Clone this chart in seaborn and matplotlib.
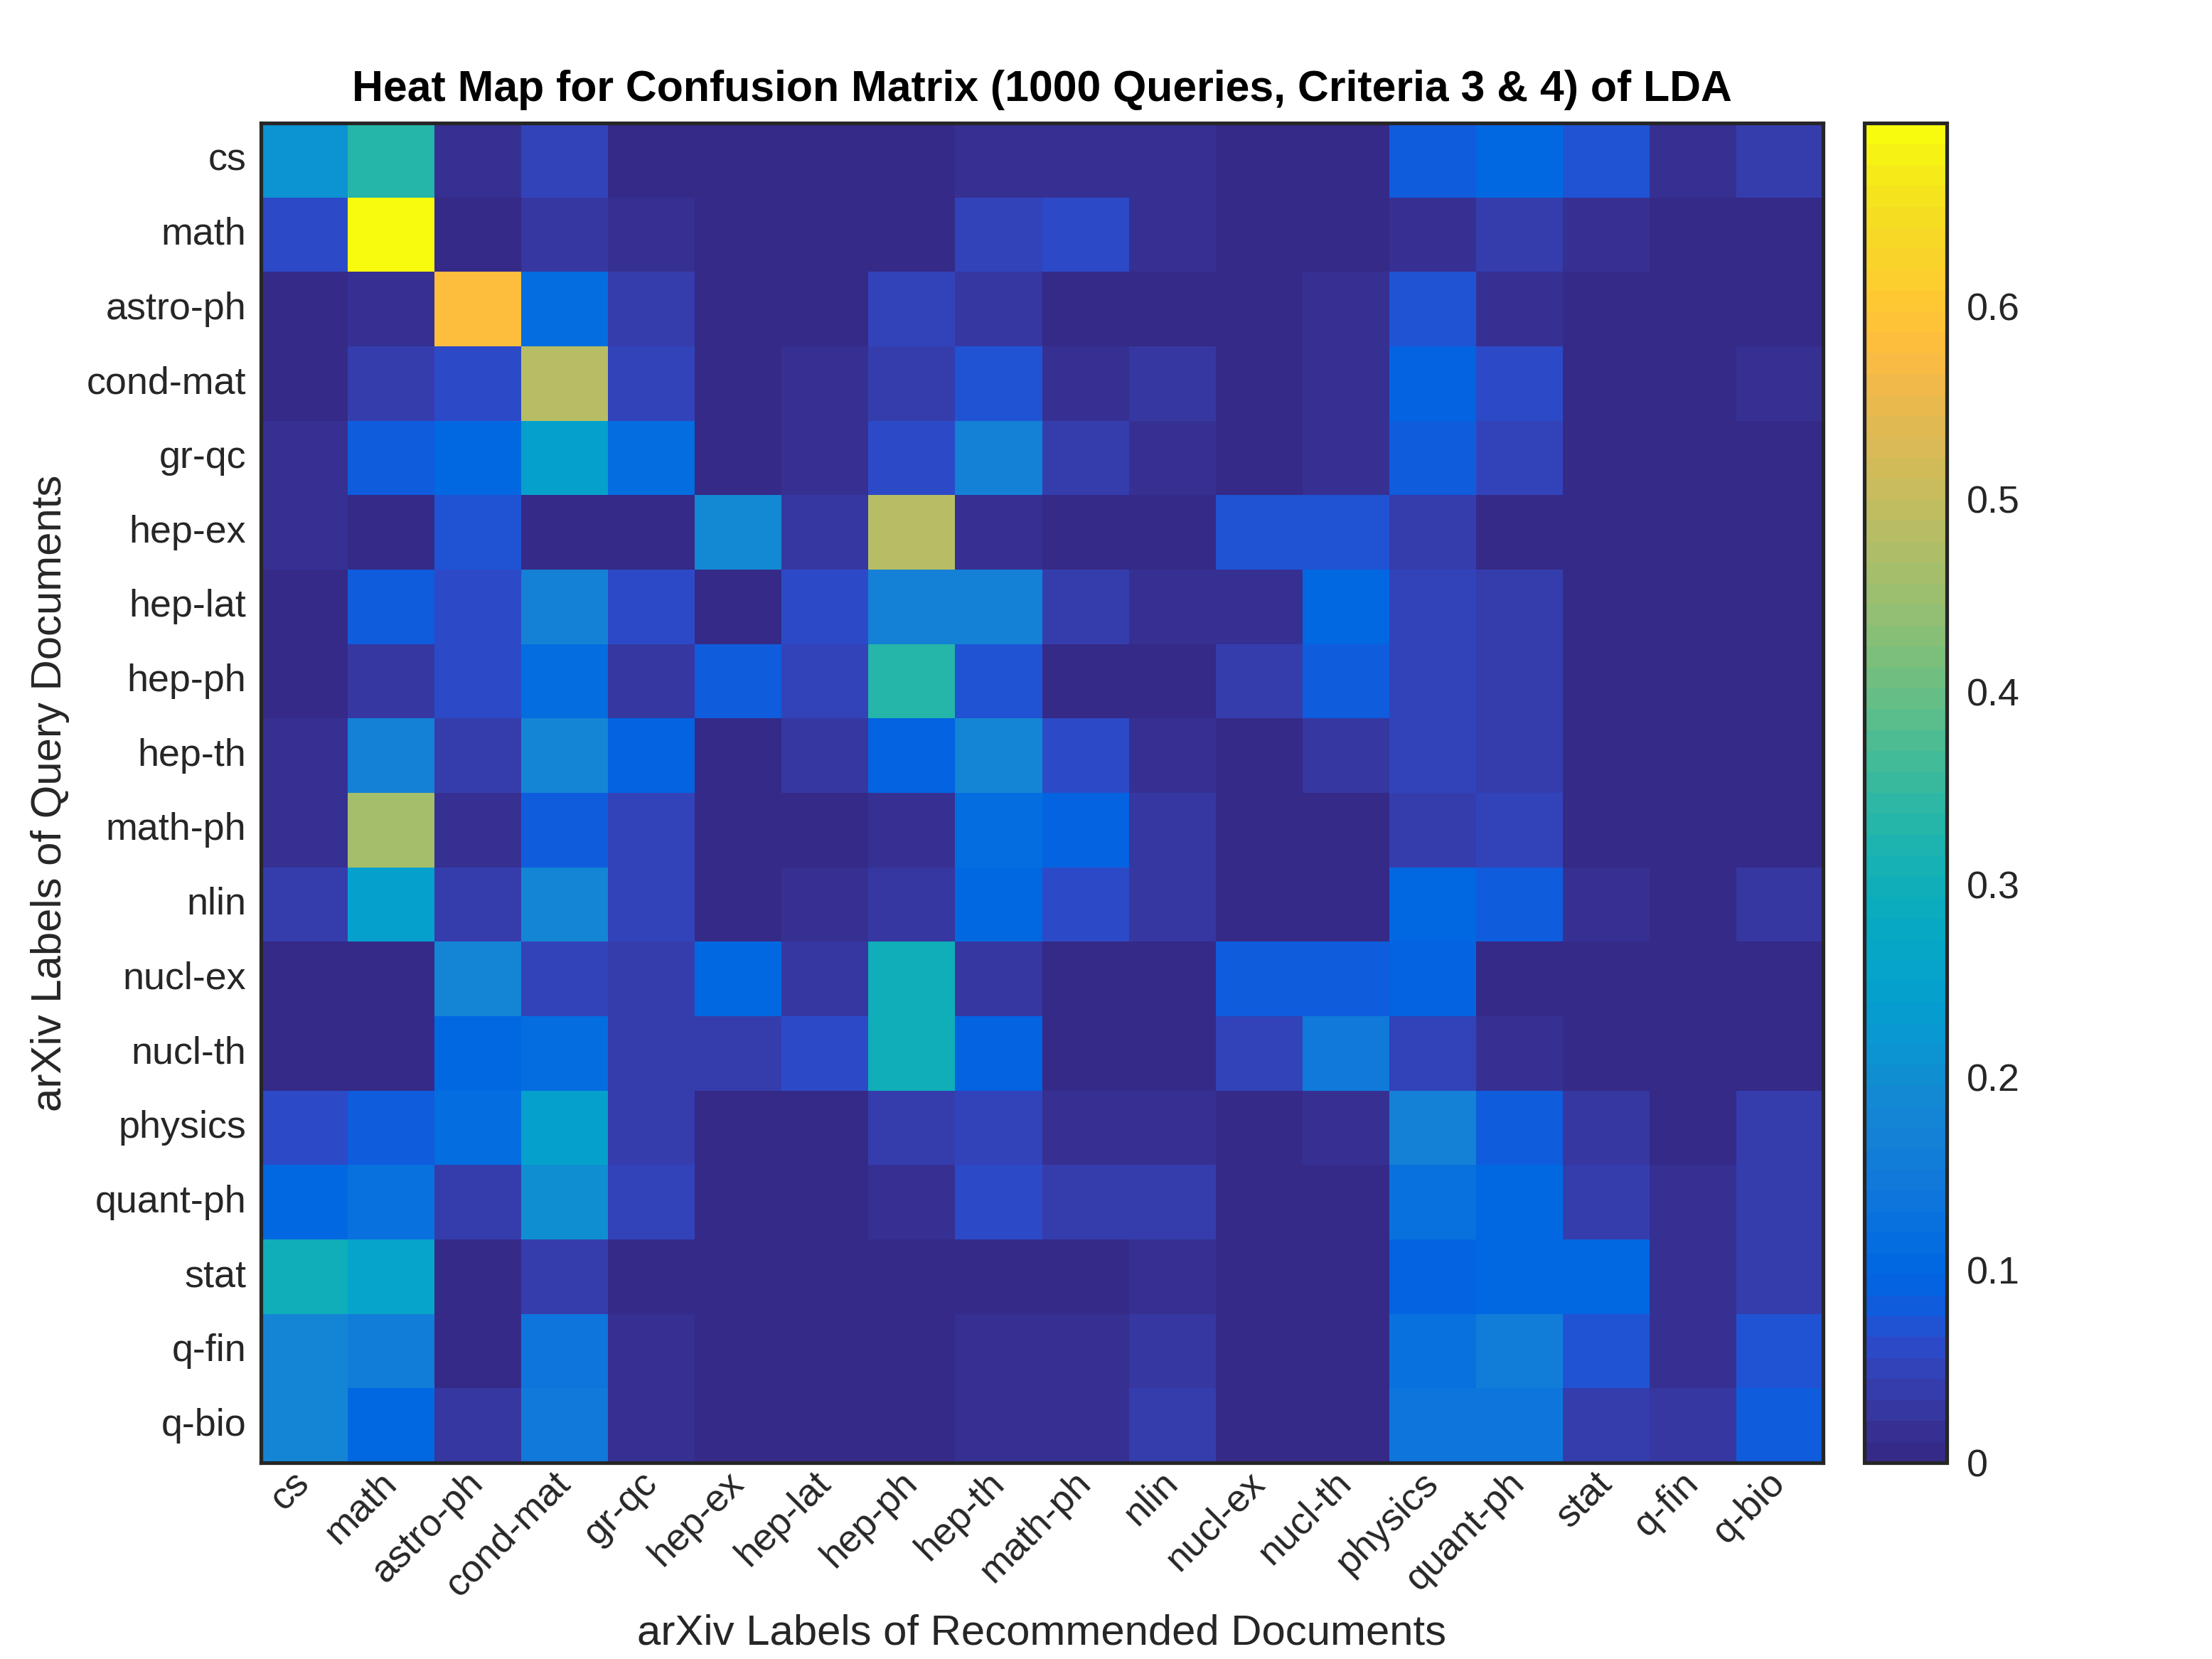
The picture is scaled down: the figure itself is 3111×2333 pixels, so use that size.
import numpy as np
import pandas as pd
import matplotlib
matplotlib.use('Agg')
import matplotlib.pyplot as plt
from matplotlib.colors import ListedColormap
import seaborn as sns

labels = ['cs', 'math', 'astro-ph', 'cond-mat', 'gr-qc', 'hep-ex', 'hep-lat', 'hep-ph', 'hep-th',
          'math-ph', 'nlin', 'nucl-ex', 'nucl-th', 'physics', 'quant-ph', 'stat', 'q-fin', 'q-bio']

# rows = query label, columns = recommended label
cs       = [0.212, 0.330, 0.020, 0.049, 0.004, 0.004, 0.004, 0.004, 0.020, 0.020, 0.020, 0.004, 0.004, 0.081, 0.103, 0.070, 0.020, 0.038]
math     = [0.060, 0.695, 0.004, 0.027, 0.020, 0.004, 0.004, 0.004, 0.049, 0.060, 0.020, 0.004, 0.004, 0.020, 0.038, 0.016, 0.004, 0.004]
astro_ph = [0.004, 0.016, 0.581, 0.114, 0.038, 0.004, 0.004, 0.049, 0.027, 0.004, 0.004, 0.004, 0.016, 0.070, 0.020, 0.004, 0.004, 0.004]
cond_mat = [0.004, 0.038, 0.060, 0.483, 0.049, 0.004, 0.016, 0.038, 0.070, 0.020, 0.027, 0.004, 0.020, 0.097, 0.060, 0.004, 0.004, 0.020]
gr_qc    = [0.020, 0.081, 0.103, 0.244, 0.114, 0.004, 0.020, 0.060, 0.168, 0.038, 0.020, 0.004, 0.020, 0.081, 0.049, 0.004, 0.004, 0.004]
hep_ex   = [0.020, 0.004, 0.070, 0.004, 0.004, 0.190, 0.027, 0.483, 0.016, 0.004, 0.004, 0.070, 0.070, 0.038, 0.004, 0.004, 0.004, 0.004]
hep_lat  = [0.004, 0.081, 0.060, 0.168, 0.060, 0.004, 0.060, 0.168, 0.168, 0.038, 0.020, 0.020, 0.103, 0.049, 0.038, 0.004, 0.004, 0.004]
hep_ph   = [0.004, 0.027, 0.060, 0.114, 0.027, 0.085, 0.049, 0.331, 0.070, 0.004, 0.004, 0.038, 0.081, 0.049, 0.038, 0.004, 0.004, 0.004]
hep_th   = [0.020, 0.168, 0.038, 0.179, 0.092, 0.004, 0.027, 0.092, 0.179, 0.060, 0.020, 0.004, 0.027, 0.049, 0.038, 0.004, 0.004, 0.004]
math_ph  = [0.016, 0.462, 0.016, 0.081, 0.049, 0.004, 0.004, 0.020, 0.114, 0.097, 0.027, 0.004, 0.004, 0.038, 0.049, 0.004, 0.004, 0.004]
nlin     = [0.038, 0.244, 0.038, 0.179, 0.049, 0.004, 0.016, 0.027, 0.103, 0.060, 0.027, 0.004, 0.004, 0.103, 0.081, 0.020, 0.004, 0.027]
nucl_ex  = [0.004, 0.004, 0.179, 0.049, 0.038, 0.103, 0.027, 0.298, 0.027, 0.004, 0.004, 0.081, 0.081, 0.097, 0.004, 0.004, 0.004, 0.004]
nucl_th  = [0.004, 0.004, 0.103, 0.114, 0.038, 0.038, 0.060, 0.298, 0.092, 0.004, 0.004, 0.049, 0.146, 0.049, 0.020, 0.004, 0.004, 0.004]
physics  = [0.060, 0.085, 0.114, 0.244, 0.038, 0.004, 0.004, 0.038, 0.049, 0.020, 0.020, 0.004, 0.020, 0.168, 0.085, 0.027, 0.004, 0.038]
quant_ph = [0.103, 0.120, 0.038, 0.206, 0.049, 0.004, 0.004, 0.020, 0.060, 0.038, 0.038, 0.004, 0.004, 0.120, 0.108, 0.038, 0.020, 0.038]
stat     = [0.298, 0.250, 0.004, 0.038, 0.004, 0.004, 0.004, 0.004, 0.004, 0.004, 0.016, 0.004, 0.004, 0.092, 0.108, 0.103, 0.020, 0.038]
q_fin    = [0.179, 0.157, 0.004, 0.136, 0.020, 0.004, 0.004, 0.004, 0.020, 0.020, 0.027, 0.004, 0.004, 0.125, 0.157, 0.070, 0.020, 0.070]
q_bio    = [0.175, 0.103, 0.027, 0.146, 0.020, 0.004, 0.004, 0.004, 0.020, 0.020, 0.038, 0.004, 0.004, 0.136, 0.136, 0.038, 0.027, 0.085]

cbar_ticks = [0, 0.1, 0.2, 0.3, 0.4, 0.5, 0.6]

# MATLAB parula, 64 entries
parula = [
    [0.2081, 0.1663, 0.5292], [0.2116, 0.1898, 0.5777], [0.2123, 0.2138, 0.6270], [0.2081, 0.2386, 0.6771],
    [0.1959, 0.2645, 0.7279], [0.1707, 0.2919, 0.7792], [0.1253, 0.3242, 0.8303], [0.0591, 0.3598, 0.8683],
    [0.0117, 0.3875, 0.8820], [0.0060, 0.4086, 0.8828], [0.0165, 0.4266, 0.8786], [0.0329, 0.4430, 0.8720],
    [0.0498, 0.4586, 0.8641], [0.0629, 0.4737, 0.8554], [0.0723, 0.4887, 0.8467], [0.0779, 0.5040, 0.8384],
    [0.0793, 0.5200, 0.8312], [0.0749, 0.5375, 0.8263], [0.0641, 0.5570, 0.8240], [0.0488, 0.5772, 0.8228],
    [0.0343, 0.5966, 0.8199], [0.0265, 0.6137, 0.8135], [0.0239, 0.6287, 0.8038], [0.0231, 0.6418, 0.7913],
    [0.0228, 0.6535, 0.7768], [0.0267, 0.6642, 0.7607], [0.0384, 0.6743, 0.7436], [0.0590, 0.6838, 0.7254],
    [0.0843, 0.6928, 0.7062], [0.1133, 0.7015, 0.6859], [0.1453, 0.7098, 0.6646], [0.1801, 0.7177, 0.6424],
    [0.2178, 0.7250, 0.6193], [0.2586, 0.7317, 0.5954], [0.3022, 0.7376, 0.5712], [0.3482, 0.7424, 0.5473],
    [0.3953, 0.7459, 0.5244], [0.4420, 0.7481, 0.5033], [0.4871, 0.7491, 0.4840], [0.5300, 0.7491, 0.4661],
    [0.5709, 0.7485, 0.4494], [0.6099, 0.7473, 0.4337], [0.6473, 0.7456, 0.4188], [0.6834, 0.7435, 0.4044],
    [0.7184, 0.7411, 0.3905], [0.7525, 0.7384, 0.3768], [0.7858, 0.7356, 0.3633], [0.8185, 0.7327, 0.3498],
    [0.8507, 0.7299, 0.3360], [0.8824, 0.7274, 0.3217], [0.9139, 0.7258, 0.3063], [0.9450, 0.7261, 0.2886],
    [0.9739, 0.7314, 0.2666], [0.9938, 0.7455, 0.2403], [0.9990, 0.7653, 0.2164], [0.9955, 0.7861, 0.1967],
    [0.9880, 0.8066, 0.1794], [0.9789, 0.8271, 0.1633], [0.9697, 0.8481, 0.1475], [0.9626, 0.8705, 0.1309],
    [0.9589, 0.8949, 0.1132], [0.9598, 0.9218, 0.0948], [0.9661, 0.9514, 0.0755], [0.9763, 0.9831, 0.0538]]
cmap = ListedColormap(parula, name='parula')

df = pd.DataFrame([cs, math, astro_ph, cond_mat, gr_qc, hep_ex, hep_lat, hep_ph, hep_th,
                   math_ph, nlin, nucl_ex, nucl_th, physics, quant_ph, stat, q_fin, q_bio],
                  index=labels, columns=labels)

sns.set_style('ticks')
plt.rcParams['font.family'] = ['Liberation Sans', 'DejaVu Sans']
dark = '#262626'

W, H = 3111, 2333
fig = plt.figure(figsize=(W / 250, H / 250), dpi=250)
ax = fig.add_axes([367 / W, 1 - 2057 / H, (2564 - 367) / W, (2057 - 173) / H])
cax = fig.add_axes([2622 / W, 1 - 2057 / H, 116 / W, (2057 - 173) / H])

sns.heatmap(df, cmap=cmap, vmin=0, vmax=df.values.max(), ax=ax, cbar_ax=cax,
            linewidths=0, cbar_kws={'ticks': cbar_ticks})

for s in ax.spines.values():
    s.set_visible(True)
    s.set_linewidth(1.5)
    s.set_color(dark)

ax.tick_params(direction='in', length=6, width=1.3, color=dark, top=True, right=True,
               labelsize=15.5, labelcolor=dark, pad=6)
ax.set_yticklabels(labels, rotation=0)
ax.set_xticklabels(labels)
for lbl in ax.get_xticklabels():
    lbl.set_rotation(45)
    lbl.set_ha('right')
    lbl.set_va('center')
    lbl.set_rotation_mode('anchor')

ax.set_title('Heat Map for Confusion Matrix (1000 Queries, Criteria 3 & 4) of LDA',
             fontsize=17.5, fontweight='bold', color='black', pad=9)
ax.set_xlabel('arXiv Labels of Recommended Documents', fontsize=17.3, color=dark, va='top')
ax.xaxis.set_label_coords(0.5, -0.113)
ax.set_ylabel('arXiv Labels of Query Documents', fontsize=17.3, color=dark, va='center')
ax.yaxis.set_label_coords(-0.135, 0.5)

cbar = ax.collections[0].colorbar
cbar.outline.set_visible(True)
cbar.outline.set_linewidth(1.5)
cbar.outline.set_edgecolor(dark)
cbar.ax.tick_params(direction='in', length=6, width=1.3, color=dark,
                    labelsize=15.5, labelcolor=dark, pad=8)
cbar.ax.set_yticklabels(['0', '0.1', '0.2', '0.3', '0.4', '0.5', '0.6'])

fig.savefig('out.png', dpi=250)
